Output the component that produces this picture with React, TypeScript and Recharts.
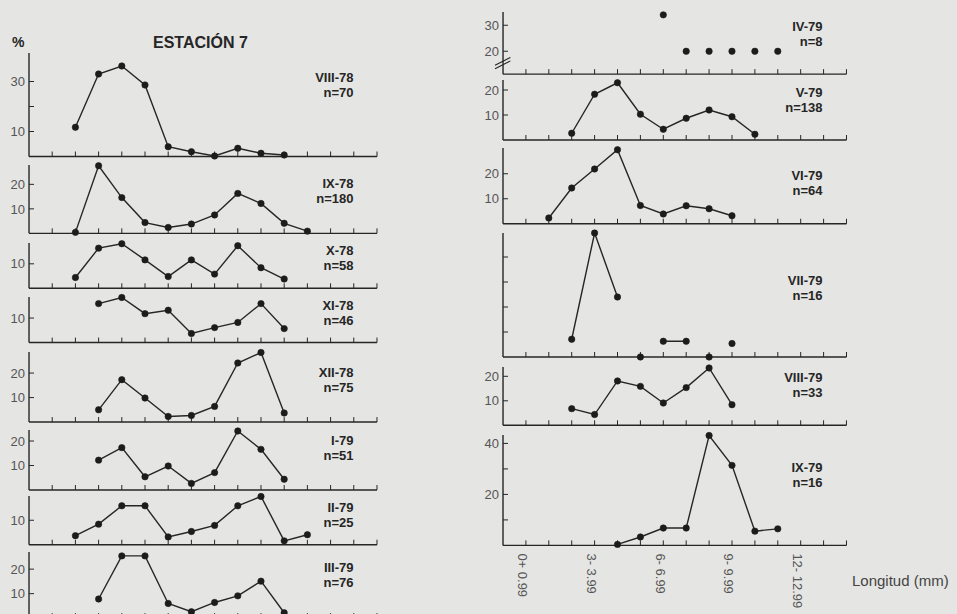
import React from 'react';
import { LineChart, Line, XAxis, YAxis, ReferenceLine } from 'recharts';

// ---------- data ----------
const lengthClasses = [0, 1, 2, 3, 4, 5, 6, 7, 8, 9, 10, 11, 12, 13, 14];
const xTickClasses = [0, 3, 6, 9, 12];
const xTickLabels = ['0+ 0.99', '3- 3.99', '6- 6.99', '9- 9.99', '12- 12.99'];

const viii78 = [null, 11.7, 33, 36.2, 28.6, 3.9, 1.9, 0.2, 3.3, 1.3, 0.6, null, null, null, null];
const ix78 = [null, 0.4, 27.6, 14.6, 4.4, 2.4, 3.8, 7.5, 16.3, 12.2, 4.1, 0.9, null, null, null];
const x78 = [null, 4.4, 16.4, 18.2, 11.6, 4.8, 11.6, 5.8, 17.4, 8.4, 3.8, null, null, null, null];
const xi78 = [null, null, 15.9, 18.4, 11.8, 13.2, 3.7, 6.1, 8.2, 15.9, 5.7, null, null, null, null];
const xii78 = [null, null, 5, 17.3, 9.8, 2.3, 2.7, 6.4, 24.1, 28.4, 3.7, null, null, null, null];
const i79 = [null, null, 12.2, 17.3, 5.4, 9.8, 2.7, 7.1, 24.1, 16.6, 4.4, null, null, null, null];
const ii79 = [null, 3.7, 8.4, 15.9, 15.9, 3.2, 5.4, 7.9, 15.9, 19.7, 1.6, 4.1, null, null, null];
const iii79 = [null, null, 7.8, 25.4, 25.4, 6, 2.6, 6.4, 9.1, 15.1, 2.2, null, null, null, null];

const iv79 = [null, null, null, null, null, null, 34, 20, 20, 20, 20, 20, null, null, null];
const v79 = [null, null, 2.7, 18.3, 22.9, 10.3, 4.3, 8.7, 12, 9.3, 2.3, null, null, null, null];
const vi79 = [null, 2.3, 14.3, 21.9, 29.6, 7.3, 3.9, 7.2, 6, 3.2, null, null, null, null, null];
const vii79 = [null, null, 7.1, 49.6, 24, null, 6.3, 6.3, null, null, null, null, null, null, null];
const vii79Isolated = [null, null, null, null, null, 0, null, null, 0, 5.4, null, null, null, null, null];
const viii79 = [null, null, 6.8, 4.4, 18.1, 15.9, 9.1, 15.4, 23.4, 8.4, null, null, null, null, null];
const ix79 = [null, null, null, null, 0.4, 3.3, 6.8, 6.8, 43.1, 31.4, 5.6, 6.5, null, null, null];

// ---------- layout ----------
const FONT = '"Liberation Sans", Arial, Helvetica, sans-serif';
const INK = '#262626';
const GREY = '#555';
const BG = '#e5e5e3';

const COLS: Record<string, { axisX: number; right: number; labelRight: number }> = {
  L: { axisX: 29, right: 377, labelRight: 353.5 },
  R: { axisX: 503, right: 846.5, labelRight: 822.5 },
};

type Panel = {
  name: string;
  n: string;
  col: 'L' | 'R';
  values: (number | null)[];
  isolated?: (number | null)[];
  noLine?: boolean;
  baseline: number;
  scale: number;
  yMin: number;
  yMax: number;
  yTicks: number[];
  yLabels: number[];
  labelY: number;
  xLabels?: boolean;
  brk?: boolean;
};

const panels: Panel[] = [
  { name: 'VIII-78', n: 'n=70', col: 'L', values: viii78, baseline: 156.5, scale: 2.5, yMin: 0, yMax: 41.4, yTicks: [10, 20, 30], yLabels: [10, 30], labelY: 77 },
  { name: 'IX-78', n: 'n=180', col: 'L', values: ix78, baseline: 233.3, scale: 2.45, yMin: 0, yMax: 27.9, yTicks: [10, 20], yLabels: [10, 20], labelY: 183.5 },
  { name: 'X-78', n: 'n=58', col: 'L', values: x78, baseline: 288.3, scale: 2.45, yMin: 0, yMax: 18.5, yTicks: [10], yLabels: [10], labelY: 250.5 },
  { name: 'XI-78', n: 'n=46', col: 'L', values: xi78, baseline: 342.3, scale: 2.45, yMin: 0, yMax: 18.6, yTicks: [10], yLabels: [10], labelY: 305.5 },
  { name: 'XII-78', n: 'n=75', col: 'L', values: xii78, baseline: 422.3, scale: 2.45, yMin: 0, yMax: 28.6, yTicks: [10, 20], yLabels: [10, 20], labelY: 372 },
  { name: 'I-79', n: 'n=51', col: 'L', values: i79, baseline: 490, scale: 2.45, yMin: 0, yMax: 24.5, yTicks: [10, 20], yLabels: [10, 20], labelY: 440 },
  { name: 'II-79', n: 'n=25', col: 'L', values: ii79, baseline: 545, scale: 2.45, yMin: 0, yMax: 19.9, yTicks: [10], yLabels: [10], labelY: 507 },
  { name: 'III-79', n: 'n=76', col: 'L', values: iii79, baseline: 618, scale: 2.45, yMin: 0, yMax: 27, yTicks: [10, 20], yLabels: [10, 20], labelY: 567 },
  { name: 'IV-79', n: 'n=8', col: 'R', values: iv79, noLine: true, baseline: 74, scale: 2.6, yMin: 11.2, yMax: 35.1, yTicks: [20, 30], yLabels: [20, 30], labelY: 26, brk: true },
  { name: 'V-79', n: 'n=138', col: 'R', values: v79, baseline: 140, scale: 2.5, yMin: 0, yMax: 24, yTicks: [10, 20], yLabels: [10, 20], labelY: 92 },
  { name: 'VI-79', n: 'n=64', col: 'R', values: vi79, baseline: 224, scale: 2.5, yMin: 0, yMax: 30.3, yTicks: [10, 20], yLabels: [10, 20], labelY: 175.5 },
  { name: 'VII-79', n: 'n=16', col: 'R', values: vii79, isolated: vii79Isolated, baseline: 356.7, scale: 2.5, yMin: 0, yMax: 49.6, yTicks: [10, 20, 30, 40], yLabels: [], labelY: 280 },
  { name: 'VIII-79', n: 'n=33', col: 'R', values: viii79, baseline: 425, scale: 2.45, yMin: 0, yMax: 23.8, yTicks: [10, 20], yLabels: [10, 20], labelY: 377 },
  { name: 'IX-79', n: 'n=16', col: 'R', values: ix79, baseline: 545, scale: 2.55, yMin: 0, yMax: 43.3, yTicks: [10, 20, 30, 40], yLabels: [20, 40], labelY: 467, xLabels: true },
];

const YW = 40;
const MT = 8;
const MR = 10;

const makeYTick = (labels: number[]) => (props: any) => {
  const { x, y, payload } = props;
  if (!labels.includes(payload.value)) return <g />;
  return (
    <text x={x} y={y} dy="0.36em" textAnchor="end" fontSize={13} fill={GREY} fontFamily={FONT}>
      {payload.value}
    </text>
  );
};

const emptyTick = () => <g />;

const XLabelTick = (props: any) => {
  const { x, y, payload } = props;
  const idx = xTickClasses.indexOf(payload.value);
  if (idx < 0) return <g />;
  const ax = x - 3;
  return (
    <text
      x={ax}
      y={y}
      dy="0.36em"
      textAnchor="start"
      transform={`rotate(90, ${ax}, ${y})`}
      fontSize={13}
      fill={GREY}
      fontFamily={FONT}
    >
      {xTickLabels[idx]}
    </text>
  );
};

const dotStyle = { r: 3.2, fill: '#1c1c1c', stroke: '#1c1c1c', strokeWidth: 0.6 };

function PanelChart({ p }: { p: Panel }) {
  const col = COLS[p.col];
  const xh = p.xLabels ? 75 : 6;
  const plotH = (p.yMax - p.yMin) * p.scale;
  const top = p.baseline - plotH;
  const left = col.axisX - YW;
  const width = col.right - col.axisX + YW + MR;
  const height = MT + plotH + xh;
  const data = lengthClasses.map((c, i) => ({
    cls: c,
    v: p.values[i],
    iso: p.isolated ? p.isolated[i] : null,
  }));
  return (
    <div style={{ position: 'absolute', left, top: top - MT, width, height }}>
      <LineChart width={width} height={height} data={data} margin={{ top: MT, right: MR, bottom: 0, left: 0 }}>
        <XAxis
          dataKey="cls"
          type="number"
          domain={[-1, 14]}
          ticks={lengthClasses}
          interval={0}
          tickSize={-5}
          tickMargin={13}
          height={xh}
          axisLine={{ stroke: INK, strokeWidth: 1.4 }}
          tickLine={{ stroke: INK, strokeWidth: 1 }}
          tick={p.xLabels ? XLabelTick : emptyTick}
        />
        <YAxis
          type="number"
          domain={[p.yMin, p.yMax]}
          ticks={p.yTicks}
          interval={0}
          tickSize={-5}
          tickMargin={9}
          width={YW}
          axisLine={{ stroke: INK, strokeWidth: 1.4 }}
          tickLine={{ stroke: INK, strokeWidth: 1 }}
          tick={makeYTick(p.yLabels)}
        />
        {p.brk && (
          <ReferenceLine
            segment={[{ x: -1.35, y: 13.3 }, { x: -0.68, y: 16.3 }]}
            ifOverflow="visible"
            stroke={INK}
            strokeWidth={1.1}
          />
        )}
        {p.brk && (
          <ReferenceLine
            segment={[{ x: -1.35, y: 14.6 }, { x: -0.68, y: 17.6 }]}
            ifOverflow="visible"
            stroke={INK}
            strokeWidth={1.1}
          />
        )}
        <Line
          dataKey="v"
          type="linear"
          stroke={p.noLine ? 'none' : INK}
          strokeWidth={1.4}
          dot={dotStyle}
          activeDot={false}
          connectNulls={false}
          isAnimationActive={false}
        />
        {p.isolated && (
          <Line
            dataKey="iso"
            type="linear"
            stroke="none"
            dot={dotStyle}
            activeDot={false}
            connectNulls={false}
            isAnimationActive={false}
          />
        )}
      </LineChart>
    </div>
  );
}

function PanelLabel({ p }: { p: Panel }) {
  const col = COLS[p.col];
  return (
    <div
      style={{
        position: 'absolute',
        left: col.labelRight - 120,
        width: 120,
        top: p.labelY - 7.5,
        textAlign: 'right',
        fontFamily: FONT,
        fontWeight: 'bold',
        fontSize: 13,
        lineHeight: '15px',
        color: INK,
        whiteSpace: 'nowrap',
      }}
    >
      <div>{p.name}</div>
      <div>{p.n}</div>
    </div>
  );
}

export default function App() {
  return (
    <div
      style={{
        position: 'absolute',
        left: 0,
        top: 0,
        width: 957,
        height: 614,
        overflow: 'hidden',
        background: BG,
        fontFamily: FONT,
      }}
    >
      <div style={{ position: 'absolute', left: 12, top: 34, fontSize: 14, fontWeight: 'bold', color: INK }}>%</div>
      <div style={{ position: 'absolute', left: 153, top: 34, fontSize: 16, fontWeight: 'bold', color: INK, whiteSpace: 'nowrap' }}>
        ESTACIÓN 7
      </div>
      {panels.map((p) => (
        <PanelChart key={p.name} p={p} />
      ))}
      {panels.map((p) => (
        <PanelLabel key={p.name + '-lbl'} p={p} />
      ))}
      <div style={{ position: 'absolute', left: 852, top: 572, fontSize: 15, color: '#444', whiteSpace: 'nowrap' }}>
        Longitud (mm)
      </div>
    </div>
  );
}
